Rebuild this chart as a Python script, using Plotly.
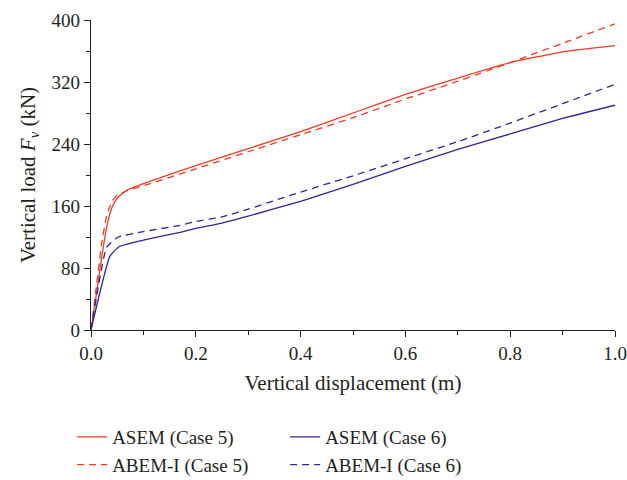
import plotly.graph_objects as go

# Data
x_red_solid = [0, 0.01, 0.02, 0.03, 0.04, 0.05, 0.07, 0.1, 0.2, 0.3, 0.4, 0.5, 0.6, 0.7, 0.8, 0.9, 1.0]
y_red_solid = [0, 45, 92, 133, 158, 170, 181, 189, 212, 234, 256, 280, 304, 325, 345, 359, 367]

x_red_dash = [0, 0.01, 0.02, 0.03, 0.04, 0.05, 0.07, 0.1, 0.2, 0.3, 0.4, 0.5, 0.6, 0.7, 0.8, 0.9, 1.0]
y_red_dash = [0, 55, 110, 148, 166, 174, 180, 186, 208, 230, 252, 274, 298, 321, 345, 370, 395]

x_blue_solid = [0, 0.036, 0.055, 0.1, 0.17, 0.2, 0.25, 0.3, 0.4, 0.5, 0.6, 0.7, 0.8, 0.9, 1.0]
y_blue_solid = [0, 95, 108, 116, 126, 131, 138, 147, 166, 188, 211, 233, 253, 273, 290]

x_blue_dash = [0, 0.03, 0.052, 0.1, 0.17, 0.2, 0.25, 0.3, 0.4, 0.5, 0.6, 0.7, 0.8, 0.9, 1.0]
y_blue_dash = [0, 107, 120, 127, 135, 140, 146, 156, 178, 199, 221, 243, 267, 292, 317]

names = ["ASEM (Case 5)", "ASEM (Case 6)", "ABEM-I (Case 5)", "ABEM-I (Case 6)"]

RED = "#ee3b24"
BLUE = "#2c2893"
FONT = "Liberation Serif"
INK = "#231f20"

fig = go.Figure()
fig.add_trace(go.Scatter(x=x_red_solid, y=y_red_solid, mode="lines", name=names[0],
                         line=dict(color=RED, width=1.3, shape="spline", smoothing=0.4)))
fig.add_trace(go.Scatter(x=x_blue_solid, y=y_blue_solid, mode="lines", name=names[1],
                         line=dict(color=BLUE, width=1.3, shape="spline", smoothing=0.4)))
fig.add_trace(go.Scatter(x=x_red_dash, y=y_red_dash, mode="lines", name=names[2],
                         line=dict(color=RED, width=1.3, dash="7px,5px", shape="spline", smoothing=0.4)))
fig.add_trace(go.Scatter(x=x_blue_dash, y=y_blue_dash, mode="lines", name=names[3],
                         line=dict(color=BLUE, width=1.3, dash="7px,5px", shape="spline", smoothing=0.4)))

axis_common = dict(
    showline=True, linecolor=INK, linewidth=1.3, mirror=False,
    ticks="outside", ticklen=6, tickwidth=1.2, tickcolor=INK,
    showgrid=False, zeroline=False, automargin=False,
    tickfont=dict(family=FONT, size=19, color=INK),
)

fig.update_xaxes(range=[0, 1.0], tick0=0, dtick=0.2, tickformat=".1f",
                 minor=dict(ticks="outside", ticklen=4, tickwidth=1.2, tickcolor=INK, dtick=0.1),
                 title=dict(text="Vertical displacement (m)", font=dict(family=FONT, size=21, color=INK),
                            standoff=12),
                 **axis_common)
fig.update_yaxes(range=[0, 400], tick0=0, dtick=80,
                 minor=dict(ticks="outside", ticklen=4, tickwidth=1.2, tickcolor=INK, dtick=40),
                 title=dict(text="Vertical load <i>F</i><sub><i>v</i></sub> (kN)",
                            font=dict(family=FONT, size=21, color=INK), standoff=10),
                 **axis_common)

fig.update_layout(
    width=627, height=480,
    margin=dict(l=91, r=12, t=20, b=150, autoexpand=False),
    plot_bgcolor="white", paper_bgcolor="white",
    showlegend=True,
    legend=dict(orientation="h", x=-0.036, y=-0.284, xanchor="left", yanchor="top",
                entrywidth=168, entrywidthmode="pixels",
                font=dict(family=FONT, size=19, color=INK),
                bgcolor="rgba(0,0,0,0)", borderwidth=0, tracegroupgap=0),
)

fig.write_html("out.html")
